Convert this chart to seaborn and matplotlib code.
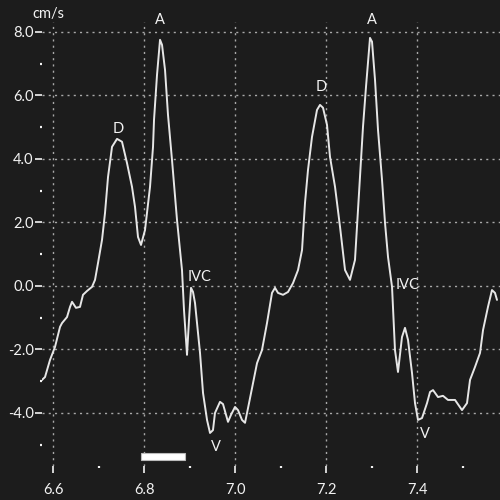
import numpy as np
import pandas as pd
import matplotlib
matplotlib.use("Agg")
import matplotlib.pyplot as plt
from matplotlib.patches import Rectangle
from matplotlib.ticker import MultipleLocator
import seaborn as sns

# ─── Data ────────────────────────────────────────────────────────────────────
time_s = [6.5714, 6.5824, 6.5934, 6.6044, 6.6154, 6.6198, 6.6308, 6.6374, 6.6418, 6.6505,
          6.6593, 6.6659, 6.6747, 6.6857, 6.6923, 6.6989, 6.7077, 6.7143, 6.7209, 6.7297,
          6.7407, 6.7516, 6.7626, 6.7736, 6.7802, 6.7868, 6.7934, 6.8022, 6.8132, 6.8198,
          6.8220, 6.8286, 6.8352, 6.8396, 6.8462, 6.8527, 6.8615, 6.8725, 6.8791, 6.8835,
          6.8879, 6.8923, 6.8945, 6.8989, 6.9033, 6.9077, 6.9121, 6.9231, 6.9297, 6.9385,
          6.9451, 6.9516, 6.9560, 6.9670, 6.9736, 6.9846, 6.9912, 7.0000, 7.0066, 7.0154,
          7.0220, 7.0308, 7.0396, 7.0484, 7.0593, 7.0703, 7.0813, 7.0879, 7.0945, 7.1055,
          7.1165, 7.1275, 7.1385, 7.1473, 7.1538, 7.1604, 7.1692, 7.1802, 7.1868, 7.1934,
          7.2022, 7.2088, 7.2198, 7.2308, 7.2418, 7.2527, 7.2637, 7.2703, 7.2813, 7.2879,
          7.2967, 7.3011, 7.3077, 7.3143, 7.3231, 7.3297, 7.3363, 7.3451, 7.3516, 7.3582,
          7.3670, 7.3736, 7.3802, 7.3890, 7.3956, 7.4022, 7.4110, 7.4220, 7.4286, 7.4352,
          7.4462, 7.4571, 7.4681, 7.4835, 7.4989, 7.5099, 7.5165, 7.5275, 7.5385, 7.5451,
          7.5560, 7.5648, 7.5714, 7.5758]
velocity = [-3.02, -2.87, -2.33, -1.92, -1.29, -1.17, -0.98, -0.66, -0.50, -0.69,
            -0.66, -0.28, -0.16, -0.03, 0.19, 0.72, 1.45, 2.30, 3.43, 4.38,
            4.63, 4.54, 3.87, 3.12, 2.49, 1.54, 1.29, 1.76, 3.12, 4.38,
            5.23, 6.65, 7.75, 7.59, 6.80, 5.39, 3.97, 2.08, 1.13, 0.50,
            -0.76, -1.70, -2.17, -1.07, -0.06, -0.19, -0.54, -2.11, -3.37, -4.22,
            -4.63, -4.54, -4.00, -3.65, -3.72, -4.28, -4.06, -3.81, -3.91, -4.22,
            -4.31, -3.69, -3.06, -2.43, -2.02, -1.17, -0.22, -0.06, -0.22, -0.28,
            -0.19, 0.09, 0.50, 1.13, 2.61, 3.65, 4.69, 5.54, 5.70, 5.61,
            5.07, 4.06, 3.12, 1.86, 0.50, 0.19, 0.82, 2.39, 5.01, 6.27,
            7.81, 7.69, 6.49, 4.91, 3.34, 1.98, 0.91, -0.03, -2.02, -2.71,
            -1.61, -1.32, -1.70, -2.74, -3.69, -4.22, -4.16, -3.69, -3.34, -3.28,
            -3.50, -3.46, -3.59, -3.59, -3.91, -3.69, -2.96, -2.55, -2.11, -1.39,
            -0.66, -0.13, -0.22, -0.44]

wave_labels = ["D", "A", "IVC", "V", "D", "A", "IVC", "V"]
label_t = [6.743, 6.835, 6.921, 6.958, 7.189, 7.301, 7.380, 7.418]
label_v = [4.94, 8.38, 0.28, -5.07, 6.27, 8.38, 0.03, -4.66]

x_ticks = [6.6, 6.8, 7.0, 7.2, 7.4]
y_ticks = [-4.0, -2.0, 0.0, 2.0, 4.0, 6.0, 8.0]

df = pd.DataFrame({"t": time_s, "v": velocity})

BG = "#1c1c1c"
FG = "#f2f2f2"
GRID = "#a8a8a8"

sns.set_theme(style="dark", rc={
    "figure.facecolor": BG, "axes.facecolor": BG,
    "text.color": FG, "xtick.color": FG, "ytick.color": FG,
})
plt.rcParams["font.family"] = ["Lato", "DejaVu Sans"]

fig = plt.figure(figsize=(5, 5), dpi=100)
ax = fig.add_axes([42 / 500, 1 - 466 / 500, 458 / 500, 444 / 500])

sns.lineplot(data=df, x="t", y="v", ax=ax, color="#e6e6e6", lw=1.4, sort=False)

ax.set_xlim(6.5758, 7.5824)
ax.set_ylim(-5.67, 8.31)
for s in ax.spines.values():
    s.set_visible(False)

ax.set_xticks(x_ticks)
ax.set_xticklabels([f"{t:.1f}" for t in x_ticks])
ax.set_yticks(y_ticks)
ax.set_yticklabels([f"{v:.1f}" for v in y_ticks])
ax.xaxis.set_minor_locator(MultipleLocator(0.1))
ax.yaxis.set_minor_locator(MultipleLocator(1.0))
ax.tick_params(axis="both", which="major", direction="out", length=5, width=1.2,
               labelsize=10.5, bottom=True, left=True)
ax.tick_params(axis="x", which="major", pad=7)
ax.tick_params(axis="y", which="major", pad=1)
ax.tick_params(axis="both", which="minor", direction="out", length=1.5, width=1.6,
               bottom=True, left=True, color=FG)

ax.grid(True, which="major", color=GRID, ls=(0, (1.5, 3)), lw=1.0)
ax.set_xlabel("")
ax.set_ylabel("")

for lab, t, v in zip(wave_labels, label_t, label_v):
    ax.text(t, v, lab, ha="center", va="center", fontsize=10.5, color=FG, clip_on=False)

# scale bar
ax.add_patch(Rectangle((6.793, -5.48), 0.097, 0.22, facecolor="white",
                       edgecolor="#bbbbbb", lw=0.8, clip_on=False))

fig.text(48 / 500, 1 - 14 / 500, "cm/s", ha="center", va="center", fontsize=10.5, color=FG)

plt.savefig("out.png", dpi=100, facecolor=BG)
